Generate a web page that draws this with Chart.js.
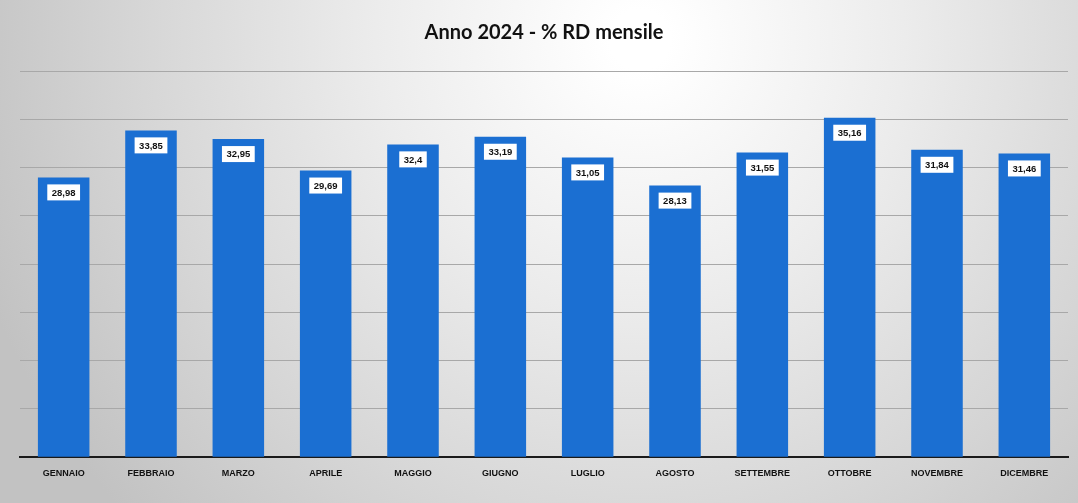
<!DOCTYPE html>
<html>
<head>
<meta charset="utf-8">
<script src="https://cdn.jsdelivr.net/npm/chart.js@4"></script>
<style>
  html, body { margin: 0; padding: 0; background: #d0d0d0; }
  #wrap { width: 1078px; height: 503px; }
</style>
</head>
<body>
<div id="wrap"><canvas id="rdChart" width="1078" height="503"></canvas></div>
<script>
// Anno 2024 - % RD mensile
const months = ['GENNAIO', 'FEBBRAIO', 'MARZO', 'APRILE', 'MAGGIO', 'GIUGNO',
    'LUGLIO', 'AGOSTO', 'SETTEMBRE', 'OTTOBRE', 'NOVEMBRE', 'DICEMBRE'];
const rdValues = [28.98, 33.85, 32.95, 29.69, 32.4, 33.19, 31.05, 28.13, 31.55, 35.16, 31.84, 31.46];
const rdLabels = ['28,98', '33,85', '32,95', '29,69', '32,4', '33,19', '31,05', '28,13', '31,55', '35,16', '31,84', '31,46'];

// grey scanned-paper background, lighter near the top centre
const bgPlugin = {
    id: 'bg',
    beforeDraw(chart) {
        const { ctx, width, height } = chart;
        ctx.save();
        const g = ctx.createRadialGradient(640, 40, 30, 640, 40, 700);
        g.addColorStop(0, '#ffffff');
        g.addColorStop(0.35, '#ececec');
        g.addColorStop(0.7, '#d6d6d6');
        g.addColorStop(1, '#c2c2c2');
        ctx.fillStyle = g;
        ctx.fillRect(0, 0, width, height);
        ctx.restore();
    }
};

// white boxes with the value, just inside the top of each bar
const valueBoxPlugin = {
    id: 'valueBox',
    afterDatasetsDraw(chart) {
        const { ctx } = chart;
        const meta = chart.getDatasetMeta(0);
        ctx.save();
        ctx.font = 'bold 9.5px "Liberation Sans", Arial, sans-serif';
        ctx.textAlign = 'center';
        ctx.textBaseline = 'middle';
        meta.data.forEach((bar, i) => {
            const txt = rdLabels[i];
            const w = ctx.measureText(txt).width + 9;
            const h = 16;
            const cy = bar.y + 7 + h / 2;
            ctx.fillStyle = '#ffffff';
            ctx.fillRect(bar.x - w / 2, cy - h / 2, w, h);
            ctx.fillStyle = '#111111';
            ctx.fillText(txt, bar.x, cy + 0.5);
        });
        ctx.restore();
    }
};

const ctx = document.getElementById('rdChart').getContext('2d');
new Chart(ctx, {
    type: 'bar',
    data: {
        labels: months,
        datasets: [{
            data: rdValues,
            backgroundColor: '#1b6fd2',
            borderWidth: 0,
            barPercentage: 0.59,
            categoryPercentage: 1.0
        }]
    },
    options: {
        responsive: false,
        animation: false,
        layout: { padding: { left: 20, right: 10, top: 0, bottom: 13 } },
        plugins: {
            legend: { display: false },
            tooltip: { enabled: false },
            title: {
                display: true,
                text: 'Anno 2024 - % RD mensile',
                color: '#111111',
                font: { family: 'Lato, "Open Sans", sans-serif', size: 20, weight: 'bold' },
                padding: { top: 21, bottom: 26 }
            }
        },
        scales: {
            x: {
                grid: { display: false, drawTicks: false },
                border: { display: true, color: '#1a1a1a', width: 2 },
                ticks: {
                    color: '#111111',
                    padding: 11,
                    font: { family: '"Liberation Sans", Arial, sans-serif', size: 9, weight: 'bold' }
                }
            },
            y: {
                min: 0,
                max: 40,
                ticks: { display: false, stepSize: 5 },
                grid: { color: '#a8a8a8', lineWidth: 1, drawTicks: false },
                border: { display: false }
            }
        }
    },
    plugins: [bgPlugin, valueBoxPlugin]
});
</script>
</body>
</html>
